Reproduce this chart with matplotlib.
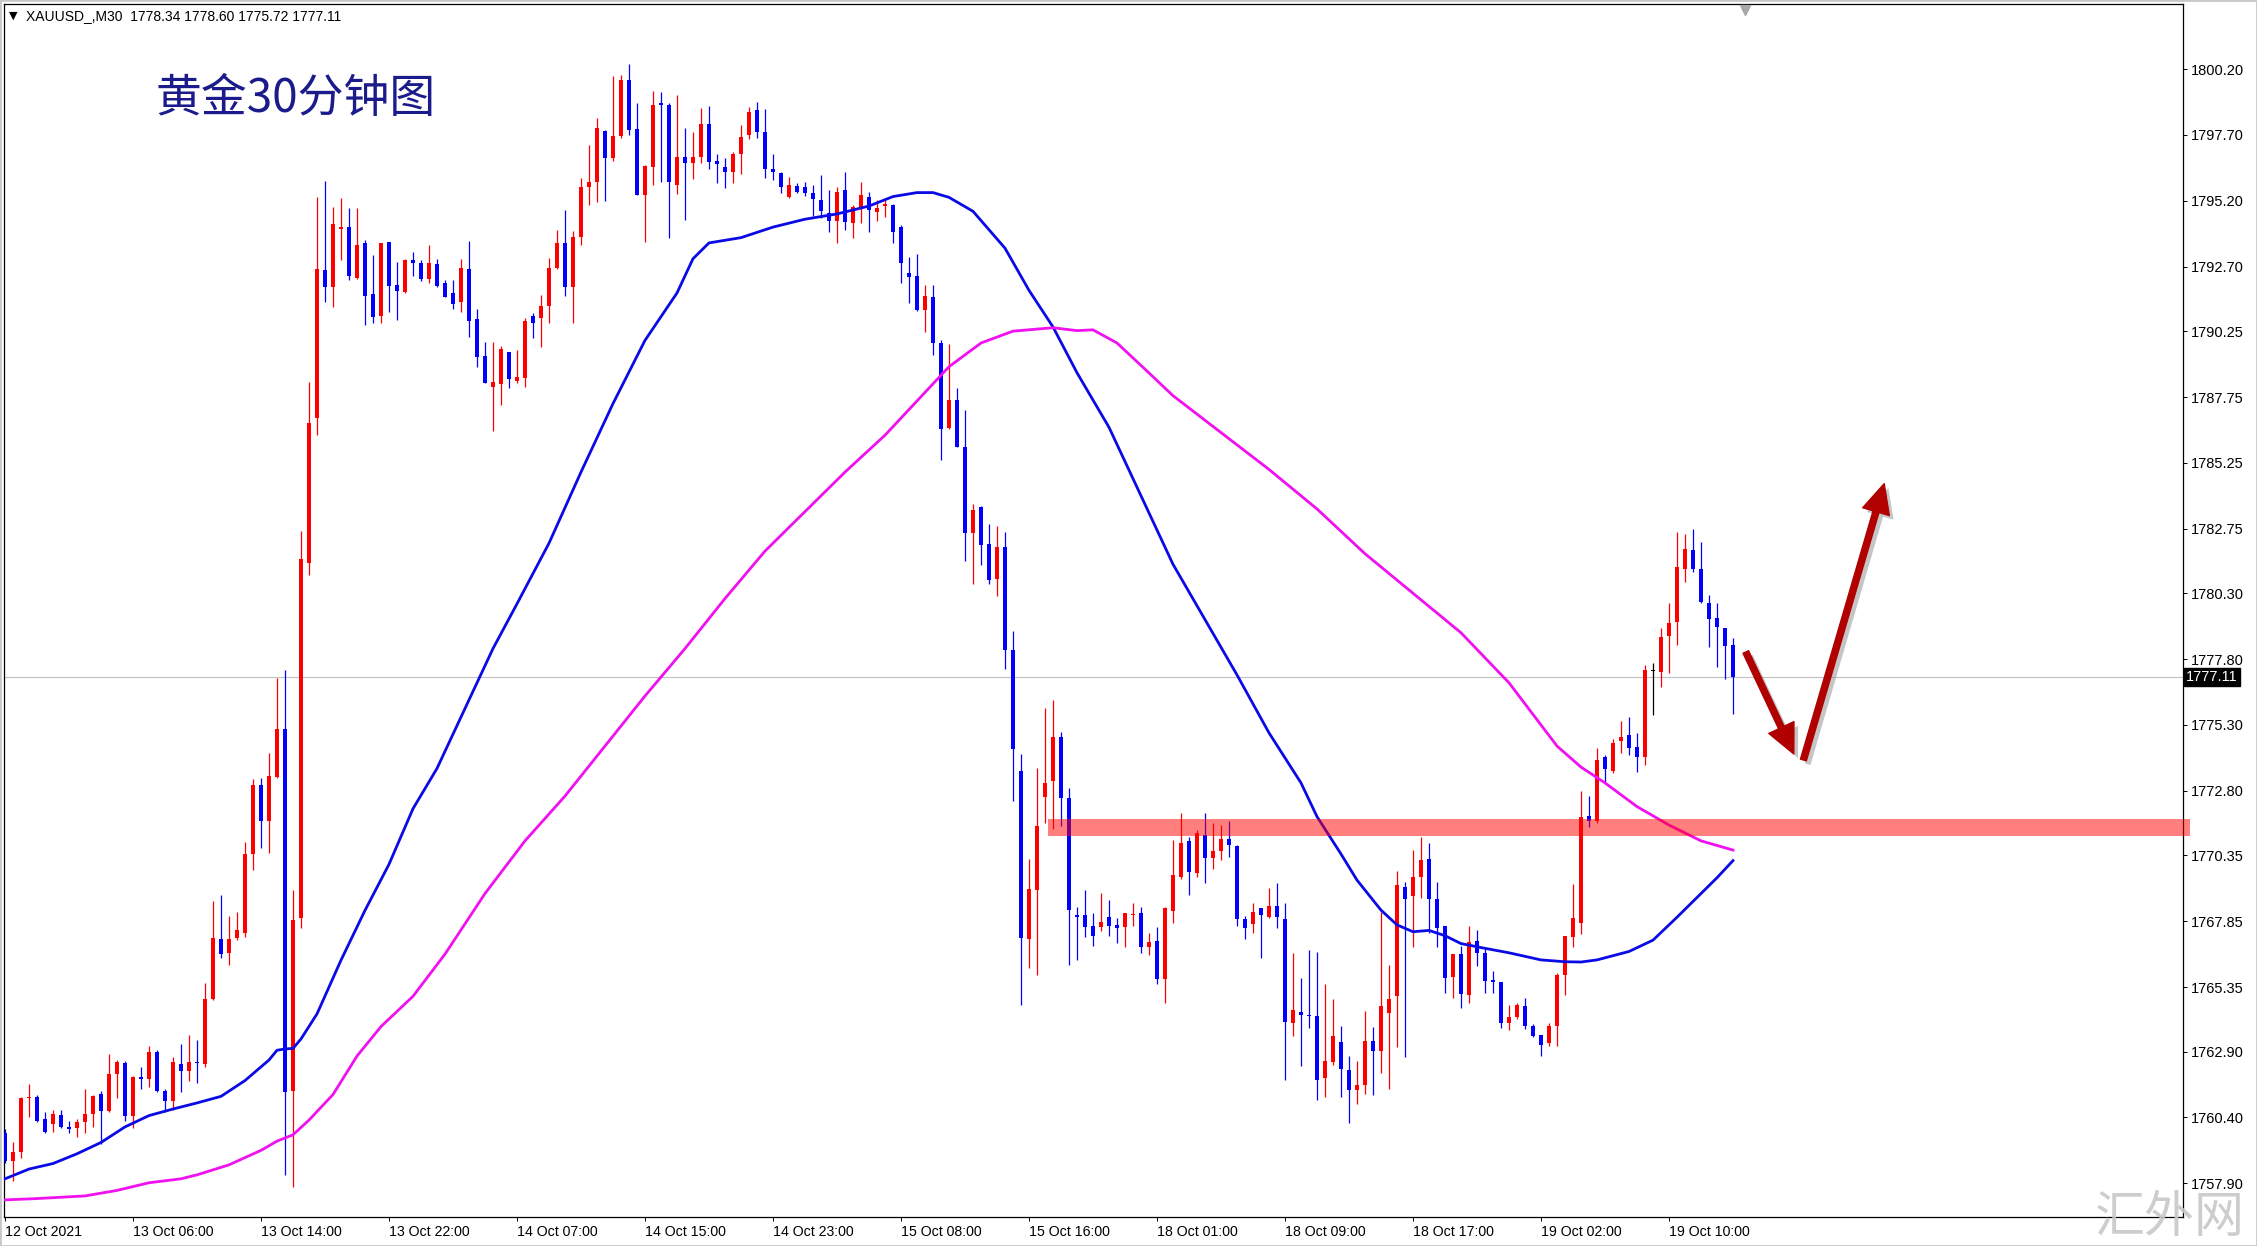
import matplotlib
matplotlib.use("Agg")
import matplotlib.pyplot as plt
import matplotlib.patheffects as pe
import matplotlib.transforms as mtransforms
from matplotlib.patches import Rectangle

plt.rcParams['font.family'] = ['Liberation Sans', 'DejaVu Sans']

# XAUUSD M30 bars, 12 Oct 22:00 -> 19 Oct
opens = [
    1759.82, 1758.73, 1759.09, 1761.13, 1761.19, 1760.33, 1760.14, 1760.51, 1760.04, 1759.99,
    1760.22, 1760.52, 1761.30, 1760.66, 1762.03, 1762.47, 1760.47, 1761.93, 1761.86, 1762.90,
    1761.39, 1761.01, 1762.44, 1762.15, 1762.51, 1762.44, 1764.91, 1767.17, 1766.63, 1767.20,
    1767.42, 1770.41, 1773.03, 1771.65, 1773.32, 1775.13, 1761.42, 1767.97, 1781.44, 1786.94,
    1792.57, 1791.94, 1794.12, 1794.20, 1792.26, 1793.59, 1791.66, 1790.84, 1793.62, 1792.00,
    1791.75, 1792.95, 1792.83, 1792.22, 1792.80, 1792.07, 1791.69, 1791.37, 1792.60, 1790.70,
    1789.31, 1788.12, 1788.23, 1789.44, 1788.37, 1788.49, 1790.83, 1790.74, 1791.20, 1792.64,
    1793.59, 1791.94, 1793.81, 1795.71, 1795.93, 1797.85, 1796.81, 1797.66, 1799.79, 1797.91,
    1795.40, 1796.50, 1798.90, 1798.84, 1795.80, 1796.85, 1796.65, 1796.85, 1798.12, 1796.71,
    1796.47, 1796.31, 1796.98, 1797.70, 1798.65, 1797.82, 1796.40, 1796.27, 1795.33, 1795.76,
    1795.74, 1795.48, 1795.23, 1794.72, 1794.45, 1795.61, 1794.37, 1794.93, 1795.36, 1794.79,
    1795.00, 1795.04, 1794.19, 1792.45, 1792.35, 1791.05, 1791.56, 1789.81, 1786.57, 1787.65,
    1785.87, 1782.59, 1783.57, 1782.17, 1780.85, 1782.07, 1778.16, 1773.57, 1767.16, 1769.03,
    1772.57, 1773.16, 1774.84, 1772.52, 1768.08, 1768.09, 1767.67, 1767.62, 1768.02, 1767.70,
    1767.62, 1768.08, 1768.15, 1766.88, 1767.10, 1765.64, 1768.25, 1769.54, 1770.89, 1769.69,
    1771.12, 1770.24, 1770.53, 1770.96, 1770.70, 1767.92, 1767.74, 1768.34, 1768.02, 1768.43,
    1767.92, 1764.00, 1764.42, 1764.29, 1764.25, 1761.88, 1762.52, 1763.27, 1762.20, 1761.44,
    1761.63, 1763.30, 1762.93, 1764.35, 1765.01, 1769.13, 1768.80, 1769.54, 1770.20, 1768.69,
    1767.67, 1765.72, 1766.60, 1765.05, 1767.11, 1766.63, 1765.59, 1765.53, 1764.00, 1764.20,
    1764.63, 1763.87, 1763.53, 1763.21, 1763.87, 1765.81, 1767.26, 1767.79, 1771.84, 1771.67,
    1774.07, 1773.56, 1774.70, 1774.92, 1774.45, 1774.10, 1777.35, 1777.32, 1778.68, 1779.22,
    1781.21, 1781.94, 1781.21, 1779.92, 1779.35, 1778.97, 1778.34,
]
highs = [
    1759.97, 1759.45, 1761.16, 1761.68, 1761.25, 1760.62, 1760.69, 1760.68, 1760.25, 1760.33,
    1761.49, 1761.27, 1761.40, 1762.80, 1762.58, 1762.54, 1761.96, 1762.32, 1763.12, 1762.95,
    1761.49, 1762.70, 1763.19, 1763.53, 1763.34, 1765.52, 1768.62, 1768.84, 1768.04, 1768.19,
    1770.85, 1773.24, 1773.28, 1774.23, 1777.07, 1777.39, 1769.02, 1782.66, 1788.31, 1795.33,
    1795.95, 1794.95, 1795.30, 1794.92, 1794.92, 1793.71, 1793.14, 1793.61, 1793.63, 1792.89,
    1793.00, 1793.27, 1792.95, 1793.52, 1793.00, 1792.20, 1792.20, 1793.00, 1793.69, 1791.08,
    1789.85, 1789.85, 1789.69, 1789.47, 1789.54, 1790.74, 1790.93, 1791.63, 1793.02, 1794.09,
    1794.85, 1794.05, 1796.05, 1797.32, 1798.33, 1797.89, 1799.94, 1799.98, 1800.39, 1798.93,
    1796.55, 1799.37, 1799.34, 1798.90, 1799.22, 1797.95, 1797.82, 1798.71, 1798.80, 1796.98,
    1796.81, 1797.06, 1798.08, 1798.77, 1798.96, 1798.67, 1796.98, 1796.30, 1796.12, 1795.86,
    1795.92, 1795.80, 1796.18, 1795.61, 1795.71, 1796.31, 1795.04, 1795.93, 1795.55, 1795.23,
    1795.23, 1795.08, 1794.28, 1793.08, 1793.18, 1792.00, 1792.00, 1789.91, 1789.76, 1788.11,
    1787.27, 1783.69, 1783.60, 1782.94, 1782.87, 1782.64, 1778.86, 1774.18, 1770.20, 1773.65,
    1775.96, 1776.24, 1775.05, 1772.92, 1768.40, 1769.03, 1768.17, 1768.91, 1768.65, 1767.96,
    1768.15, 1768.55, 1768.38, 1767.41, 1767.64, 1768.40, 1770.93, 1771.94, 1771.06, 1771.31,
    1771.94, 1771.56, 1771.50, 1771.67, 1770.74, 1768.05, 1768.53, 1768.34, 1769.10, 1769.29,
    1768.55, 1766.65, 1765.68, 1766.75, 1766.69, 1765.46, 1764.88, 1763.87, 1762.73, 1762.56,
    1764.45, 1763.85, 1768.21, 1766.19, 1769.77, 1769.35, 1770.55, 1771.06, 1770.80, 1769.35,
    1767.67, 1766.60, 1766.91, 1767.67, 1767.51, 1766.82, 1765.97, 1765.53, 1764.67, 1764.76,
    1764.92, 1763.95, 1763.53, 1763.97, 1765.90, 1767.29, 1769.26, 1772.80, 1772.60, 1774.41,
    1774.16, 1774.75, 1775.46, 1775.59, 1774.98, 1777.58, 1777.64, 1778.97, 1779.94, 1782.64,
    1782.54, 1782.73, 1782.26, 1780.23, 1779.94, 1778.97, 1778.60,
]
lows = [
    1758.66, 1758.00, 1758.87, 1760.40, 1760.22, 1759.82, 1759.85, 1760.00, 1759.79, 1759.64,
    1759.82, 1760.04, 1759.38, 1760.62, 1761.13, 1760.25, 1759.99, 1761.49, 1761.56, 1761.35,
    1760.62, 1760.69, 1761.35, 1761.78, 1761.71, 1762.32, 1764.84, 1766.44, 1766.19, 1767.12,
    1767.24, 1769.79, 1770.62, 1770.43, 1773.28, 1758.22, 1757.75, 1767.60, 1781.00, 1786.31,
    1791.37, 1791.18, 1792.95, 1792.20, 1792.22, 1790.49, 1790.57, 1790.57, 1790.99, 1790.68,
    1791.71, 1792.35, 1792.17, 1792.09, 1791.94, 1791.54, 1791.08, 1790.99, 1790.04, 1788.88,
    1788.27, 1786.47, 1787.45, 1788.08, 1788.27, 1788.12, 1789.98, 1789.66, 1790.57, 1792.60,
    1791.60, 1790.57, 1793.52, 1795.04, 1795.17, 1795.20, 1796.72, 1797.57, 1797.70, 1795.40,
    1793.65, 1795.80, 1795.93, 1793.77, 1795.46, 1794.47, 1796.02, 1796.65, 1796.40, 1795.86,
    1795.67, 1795.89, 1796.22, 1797.53, 1797.57, 1796.05, 1796.00, 1795.51, 1795.29, 1795.48,
    1795.38, 1794.62, 1794.53, 1794.03, 1793.61, 1794.09, 1793.77, 1794.37, 1794.03, 1794.45,
    1794.60, 1793.61, 1792.07, 1791.31, 1791.03, 1790.23, 1789.35, 1785.36, 1786.54, 1785.84,
    1781.54, 1780.64, 1781.37, 1780.64, 1780.20, 1777.41, 1772.40, 1764.67, 1766.06, 1765.80,
    1771.56, 1771.35, 1771.47, 1766.18, 1766.38, 1767.26, 1766.91, 1767.49, 1767.29, 1767.03,
    1766.86, 1767.67, 1766.63, 1766.57, 1765.46, 1764.76, 1767.77, 1769.44, 1768.84, 1769.51,
    1769.31, 1769.82, 1770.17, 1770.30, 1767.67, 1767.16, 1767.41, 1766.44, 1767.96, 1767.58,
    1761.82, 1763.49, 1762.35, 1763.80, 1761.06, 1761.16, 1762.39, 1761.19, 1760.20, 1760.90,
    1761.30, 1761.25, 1762.10, 1761.47, 1763.06, 1762.71, 1766.86, 1768.72, 1767.39, 1766.88,
    1765.11, 1764.92, 1764.54, 1764.76, 1766.15, 1765.13, 1765.11, 1763.78, 1763.72, 1764.12,
    1763.74, 1763.46, 1762.73, 1763.11, 1763.11, 1765.05, 1766.88, 1767.36, 1771.41, 1771.59,
    1773.15, 1773.49, 1774.22, 1774.16, 1773.53, 1773.78, 1775.68, 1776.73, 1777.26, 1778.34,
    1780.74, 1781.12, 1779.94, 1778.25, 1777.51, 1777.03, 1775.72,
]
closes = [
    1758.73, 1759.09, 1761.13, 1761.19, 1760.28, 1759.85, 1760.52, 1760.04, 1759.96, 1760.22,
    1760.52, 1761.20, 1760.66, 1762.03, 1762.51, 1760.47, 1761.93, 1761.86, 1762.90, 1761.39,
    1761.01, 1762.51, 1762.18, 1762.51, 1762.46, 1764.91, 1767.21, 1766.59, 1767.17, 1767.53,
    1770.41, 1773.03, 1771.65, 1773.38, 1775.13, 1761.35, 1767.90, 1781.60, 1786.75, 1792.60,
    1791.92, 1794.32, 1794.22, 1792.35, 1793.52, 1791.60, 1790.80, 1793.59, 1791.98, 1791.79,
    1792.95, 1792.83, 1792.22, 1792.83, 1791.98, 1791.56, 1791.27, 1792.64, 1790.65, 1789.28,
    1788.30, 1788.31, 1789.56, 1788.42, 1788.50, 1790.65, 1790.57, 1791.21, 1792.64, 1793.59,
    1791.92, 1793.81, 1795.71, 1795.90, 1797.95, 1796.81, 1797.66, 1799.79, 1797.89, 1795.40,
    1796.52, 1798.84, 1798.85, 1795.93, 1796.85, 1796.62, 1796.85, 1798.12, 1796.69, 1796.58,
    1796.31, 1796.98, 1797.61, 1798.58, 1797.82, 1796.40, 1796.30, 1795.74, 1795.80, 1795.55,
    1795.51, 1795.26, 1794.83, 1794.45, 1795.55, 1794.41, 1794.98, 1795.42, 1794.85, 1794.91,
    1795.08, 1794.03, 1792.83, 1792.32, 1791.05, 1791.59, 1789.79, 1786.53, 1787.65, 1785.84,
    1782.59, 1783.46, 1782.12, 1780.81, 1782.07, 1778.16, 1774.39, 1767.23, 1769.08, 1771.47,
    1773.10, 1774.84, 1772.52, 1768.28, 1768.00, 1767.62, 1767.29, 1767.83, 1767.67, 1767.58,
    1768.15, 1768.12, 1766.86, 1767.07, 1765.64, 1768.36, 1769.60, 1770.81, 1769.73, 1771.19,
    1770.24, 1770.53, 1770.96, 1770.74, 1767.92, 1767.58, 1768.21, 1768.08, 1768.43, 1768.00,
    1764.04, 1764.48, 1764.29, 1764.25, 1761.82, 1762.56, 1763.49, 1762.23, 1761.44, 1761.63,
    1763.30, 1762.93, 1764.63, 1764.88, 1769.22, 1768.68, 1769.54, 1770.17, 1768.69, 1767.60,
    1765.68, 1766.60, 1765.08, 1767.07, 1766.63, 1765.59, 1765.56, 1764.00, 1764.20, 1764.67,
    1763.87, 1763.49, 1763.15, 1763.87, 1765.81, 1767.29, 1767.96, 1771.79, 1771.67, 1773.97,
    1773.62, 1774.60, 1774.85, 1774.41, 1774.10, 1777.39, 1777.35, 1778.65, 1779.16, 1781.28,
    1781.97, 1781.21, 1779.98, 1779.31, 1779.03, 1778.30, 1777.11,
]

# moving averages as drawn on the chart (bar index -> value)
ma_blue_idx = [0, 3, 6, 9, 12, 15, 18, 21, 24, 27, 30, 33, 34, 35, 36, 37, 39, 42, 45, 48,
               51, 54, 57, 61, 64, 68, 72, 76, 80, 84, 86, 88, 92, 96, 100, 104, 108, 111, 114, 116,
               118, 121, 125, 128, 131, 134, 138, 142, 146, 150, 154, 158, 162, 164, 167, 169, 172, 174, 176, 178,
               180, 182, 185, 188, 192, 195, 197, 199, 203, 206, 209, 212, 214, 216]
ma_blue_val = [1758.07, 1758.44, 1758.65, 1759.02, 1759.45, 1760.04, 1760.47, 1760.72, 1760.95, 1761.20,
               1761.80, 1762.58, 1762.95, 1763.00, 1763.02, 1763.38, 1764.33, 1766.37, 1768.26, 1770.01,
               1772.12, 1773.65, 1775.60, 1778.20, 1779.90, 1782.20, 1784.90, 1787.50, 1789.90, 1791.70,
               1793.00, 1793.60, 1793.80, 1794.20, 1794.50, 1794.70, 1795.00, 1795.36, 1795.51, 1795.51,
               1795.33, 1794.80, 1793.40, 1791.80, 1790.41, 1788.67, 1786.60, 1784.00, 1781.40, 1779.30,
               1777.20, 1775.00, 1773.10, 1771.82, 1770.40, 1769.41, 1768.27, 1767.71, 1767.45, 1767.50,
               1767.30, 1767.00, 1766.82, 1766.65, 1766.38, 1766.31, 1766.30, 1766.38, 1766.70, 1767.13,
               1768.00, 1768.90, 1769.50, 1770.15]
ma_mag_idx = [0, 4, 10, 14, 18, 22, 24, 28, 32, 34, 36, 38, 41, 44, 47, 51, 55, 60, 65, 70,
              75, 80, 85, 90, 95, 100, 105, 110, 114, 118, 122, 126, 131, 134, 136, 139, 142, 146, 152, 158,
              164, 170, 176, 182, 188, 194, 197, 200, 204, 208, 212, 216]
ma_mag_val = [1757.27, 1757.32, 1757.42, 1757.63, 1757.92, 1758.07, 1758.22, 1758.60, 1759.15, 1759.50,
              1759.74, 1760.30, 1761.27, 1762.73, 1763.85, 1765.00, 1766.60, 1768.90, 1770.90, 1772.60,
              1774.50, 1776.40, 1778.20, 1780.10, 1781.90, 1783.40, 1784.90, 1786.30, 1787.60, 1788.90,
              1789.80, 1790.25, 1790.38, 1790.27, 1790.30, 1789.80, 1788.95, 1787.80, 1786.40, 1785.00,
              1783.50, 1781.80, 1780.30, 1778.80, 1776.90, 1774.50, 1773.70, 1773.10, 1772.20, 1771.50,
              1770.90, 1770.55]

y_ticks = [1800.20, 1797.70, 1795.20, 1792.70, 1790.25, 1787.75, 1785.25, 1782.75, 1780.30,
           1777.80, 1775.30, 1772.80, 1770.35, 1767.85, 1765.35, 1762.90, 1760.40, 1757.90]
x_tick_idx = [0, 16, 32, 48, 64, 80, 96, 112, 128, 144, 160, 176, 192, 208]
x_tick_labels = ['12 Oct 2021', '13 Oct 06:00', '13 Oct 14:00', '13 Oct 22:00', '14 Oct 07:00',
                 '14 Oct 15:00', '14 Oct 23:00', '15 Oct 08:00', '15 Oct 16:00', '18 Oct 01:00',
                 '18 Oct 09:00', '18 Oct 17:00', '19 Oct 02:00', '19 Oct 10:00']

# resistance zone and the two hand-drawn arrows
zone_start, zone_end, zone_low, zone_high = 130.4, 273.1, 1771.07, 1771.73
arrow_down = ((217.6, 1778.07), (223.6, 1774.20))
arrow_up = ((224.8, 1773.97), (234.9, 1784.46))

n = len(closes)
assert len(opens) == n and len(highs) == n and len(lows) == n

W, H = 2257, 1246
fig = plt.figure(figsize=(W / 100, H / 100), dpi=100)
ax = fig.add_axes([4 / W, (H - 1217) / H, (2183 - 4) / W, (1217 - 4) / H])

xs = list(range(n))
cols = []
for o, c in zip(opens, closes):
    if c > o:
        cols.append('#FF0000')
    elif c < o:
        cols.append('#0000FF')
    else:
        cols.append('#000000')
bottoms = [min(o, c) for o, c in zip(opens, closes)]
heights = [max(abs(c - o), 0.04) for o, c in zip(opens, closes)]

ax.axhline(closes[-1], color='#C0C0C0', lw=0.8, zorder=0)
ax.vlines(xs, lows, highs, colors=cols, linewidth=0.9, zorder=2)
ax.bar(xs, heights, bottom=bottoms, width=0.55, color=cols, linewidth=0, zorder=3)

ax.plot(ma_blue_idx, ma_blue_val, color='#0A0AE6', lw=2.0, zorder=4, solid_joinstyle='round')
ax.plot(ma_mag_idx, ma_mag_val, color='#F010F0', lw=2.0, zorder=4, solid_joinstyle='round')

ax.add_patch(Rectangle((zone_start, zone_low), zone_end - zone_start, zone_high - zone_low,
                       facecolor='#FF0000', alpha=0.5, edgecolor='none', clip_on=False, zorder=5))

shadow = [pe.SimplePatchShadow(offset=(3, -3), shadow_rgbFace='#808080', alpha=0.45), pe.Normal()]
for (x0, y0), (x1, y1) in (arrow_down, arrow_up):
    ax.annotate('', xy=(x1, y1), xytext=(x0, y0), annotation_clip=False, zorder=6,
                arrowprops=dict(arrowstyle='simple,head_length=1.05,head_width=1.0,tail_width=0.22',
                                mutation_scale=20, color='#B00000', shrinkA=0, shrinkB=0,
                                path_effects=shadow))

ax.set_xlim(-0.125, (2183 - 5) / 8)
ax.set_ylim(1756.62, 1802.67)

ax.yaxis.tick_right()
ax.set_yticks(y_ticks)
ax.set_yticklabels(['%.2f' % v for v in y_ticks])
ax.set_xticks(x_tick_idx)
ax.set_xticklabels(x_tick_labels, ha='left')
ax.tick_params(axis='y', direction='out', length=3, width=0.7, pad=2.5, labelsize=10.5, colors='black')
ax.tick_params(axis='x', direction='out', length=3, width=0.7, pad=3, labelsize=10.2, colors='black')
for s in ax.spines.values():
    s.set_color('black')
    s.set_linewidth(0.9)

# current price tag on the price scale
trans = mtransforms.blended_transform_factory(ax.transAxes, ax.transData)
ax.text(1.0015, closes[-1], '%.2f' % closes[-1], transform=trans, ha='left', va='center',
        color='white', fontsize=10.5,
        bbox=dict(boxstyle='square,pad=0.15', facecolor='black', edgecolor='black'))

# chart shift marker at the top
ax.plot([217.5], [1802.45], marker='v', color='#A8A8A8', ms=7, clip_on=False, zorder=7)

fig.text(13.5 / W, 1 - 16 / H, '\u25bc', family='DejaVu Sans', fontsize=8, ha='center', va='center')
fig.text(26 / W, 1 - 16 / H, 'XAUUSD_,M30  %.2f %.2f %.2f %.2f' % (opens[-1], highs[-1], lows[-1], closes[-1]),
         fontsize=10, ha='left', va='center')
fig.text(155 / W, 1 - 98.5 / H, '黄金30分钟图', family=['Noto Sans CJK SC', 'DejaVu Sans'],
         fontsize=33, color='#1B1B8C', ha='left', va='center')
fig.text(2170 / W, 1 - 1218 / H, '汇外网', family=['Noto Sans CJK SC', 'DejaVu Sans'],
         fontsize=36, color='#C8C8C8', ha='center', va='center', alpha=0.9)

fig.add_artist(Rectangle((0, 0), 1, 1, transform=fig.transFigure, fill=False,
                         edgecolor='#C8C8C8', linewidth=2))

fig.savefig('out.png', dpi=100)
